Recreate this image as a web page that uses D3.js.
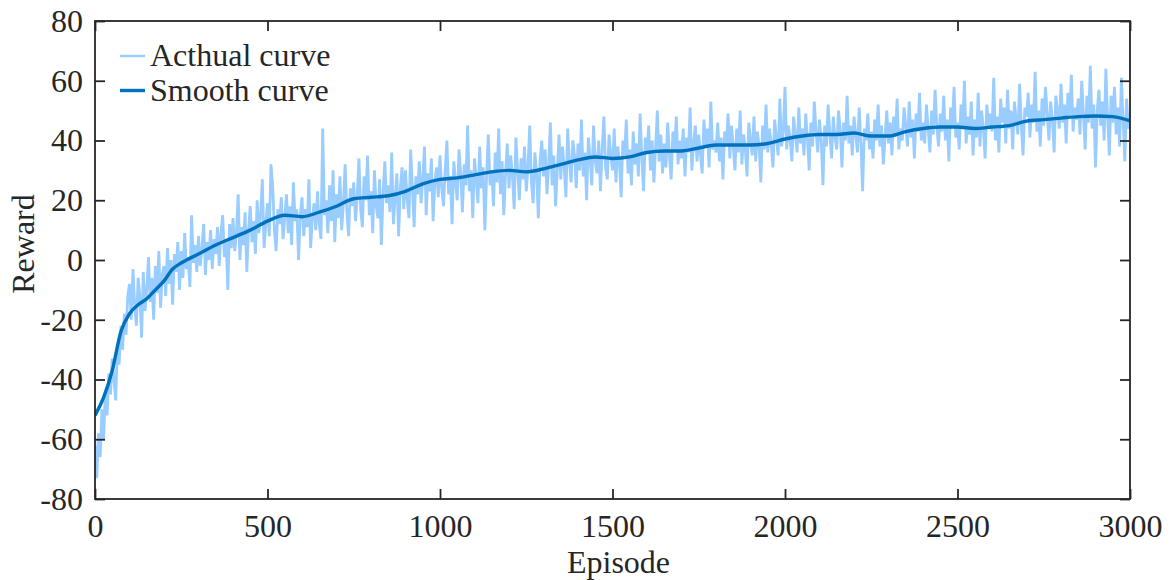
<!DOCTYPE html>
<html lang="en">
<head>
    <meta charset="UTF-8">
    <title>Reward Curve</title>
    <script src="https://d3js.org/d3.v7.min.js"></script>
    <style>
        body { margin: 0; background: #fff; }
        svg text { font-family: "Liberation Serif", "Times New Roman", serif; fill: #262626; }
    </style>
</head>
<body>
<svg id="chart"></svg>
<script>
    // axis ticks
    const xTicks = [0, 500, 1000, 1500, 2000, 2500, 3000];
    const yTicks = [-80, -60, -40, -20, 0, 20, 40, 60, 80];

    // legend labels
    const seriesNames = ["Acthual curve", "Smooth curve"];

    // smoothed reward
    const smoothEpisodes = [0, 25, 50, 75, 100, 125, 150, 175, 200, 225, 250, 300, 350, 400, 450, 500, 550, 600, 650, 700,
        750, 800, 850, 900, 950, 1000, 1050, 1100, 1150, 1200, 1250, 1300, 1350, 1400, 1450, 1500, 1550, 1600, 1650, 1700,
        1750, 1800, 1850, 1900, 1950, 2000, 2050, 2100, 2150, 2200, 2250, 2300, 2350, 2400, 2450, 2500, 2550, 2600, 2650, 2700,
        2750, 2800, 2850, 2900, 2950, 3000];
    const smoothReward = [-52, -46, -37, -24, -18, -15, -13, -10, -7, -3, -1, 2, 5, 7.5, 10, 13, 15, 14.5, 16, 18,
        20.5, 21, 21.5, 23, 25.5, 27, 27.5, 28.5, 29.5, 30, 29.5, 30.5, 32, 33.5, 34.5, 34, 34.5, 36, 36.5, 36.5,
        37.5, 38.5, 38.5, 38.5, 39, 40.5, 41.5, 42, 42, 42.5, 41.5, 41.5, 43, 44, 44.5, 44.5, 44, 44.5, 45, 46.5,
        47, 47.5, 48, 48.2, 48, 46.6];

    // raw reward, one value every 5 episodes
    const actualStep = 5;
    const actualReward = [
        -62, -73, -58, -66, -50, -60, -44, -52, -38, -45,
        -33, -40, -47, -28, -35, -22, -30, -18, -25, -12,
        -8, -20, -3, -15, -22, -6, -12, -26, -4, -17,
        -10, 1, -14, -6, -20, -2, -11, 3, -16, -5,
        -2, -12, 4, -8, 0, -15, 2, -4, 6, -10,
        3, -6, 9, -3, 1, -9, 15, -1, 5, -4,
        8, -2, 4, 12, -5, 6, 0, 10, -3, 7,
        2, 11, -2, 9, 15, 1, 6, -10, 12, 4,
        14, 3, 9, 22, 0, 11, 5, 16, -4, 10,
        18, 6, 13, 2, 20, 9, 15, 27, 4, 12,
        19, 8, 32, 25, 10, 3, 17, 12, 21, 7,
        14, 22, 9, 18, 5, 26, 13, 17, 0, 15,
        21, 8, 17, 11, 27, 4, 14, 19, 10, 23,
        12, 7, 44, 15, 20, 9, 25, 13, 30, 6,
        22, 14, 28, 10, 19, 32, 16, 8, 24, 18,
        26, 13, 21, 34, 17, 11, 28, 20, 35, 15,
        23, 9, 30, 18, 14, 27, 5, 22, 33, 19,
        25, 16, 36, 12, 21, 29, 8, 24, 31, 17,
        30, 20, 14, 37, 24, 11, 28, 22, 33, 19,
        27, 38, 15, 29, 23, 34, 13, 26, 31, 21,
        35, 24, 18, 30, 40, 22, 28, 12, 33, 26,
        20, 37, 29, 16, 32, 25, 45, 23, 30, 14,
        34, 27, 19, 38, 24, 31, 10, 28, 42, 25,
        30, 18, 36, 26, 44, 22, 33, 15, 29, 39,
        24, 35, 28, 17, 41, 30, 20, 34, 27, 38,
        23, 31, 45, 26, 19, 36, 29, 14, 33, 40,
        28, 37, 22, 32, 46, 25, 35, 18, 30, 42,
        27, 38, 31, 21, 44, 33, 26, 40, 35, 24,
        39, 30, 47, 28, 36, 20, 41, 34, 25, 45,
        33, 29, 40, 23, 37, 48, 31, 27, 42, 35,
        30, 44, 26, 38, 33, 21, 40, 35, 47, 29,
        37, 25, 43, 32, 39, 28, 49, 34, 23, 41,
        36, 45, 30, 40, 26, 38, 50, 33, 42, 29,
        39, 31, 46, 35, 27, 43, 37, 48, 32, 40,
        34, 44, 28, 41, 36, 51, 30, 39, 45, 33,
        42, 35, 29, 47, 38, 44, 31, 53, 37, 40,
        36, 46, 33, 41, 27, 43, 39, 49, 34, 45,
        38, 30, 44, 36, 50, 32, 42, 37, 28, 46,
        40, 35, 48, 33, 43, 38, 26, 45, 37, 52,
        36, 44, 39, 31, 47, 41, 35, 54, 38, 43,
        58, 37, 45, 40, 33, 48, 42, 36, 51, 39,
        44, 35, 49, 41, 30, 46, 38, 53, 43, 36,
        47, 40, 25, 45, 38, 52, 42, 34, 48, 41,
        37, 50, 44, 31, 46, 40, 55, 39, 45, 35,
        48, 42, 36, 51, 39, 23, 44, 40, 49, 37,
        43, 34, 47, 40, 52, 38, 45, 32, 41, 50,
        39, 46, 35, 48, 42, 54, 37, 44, 40, 51,
        45, 38, 53, 41, 47, 34, 49, 43, 56, 40,
        46, 39, 52, 44, 36, 50, 42, 57, 45, 38,
        49, 43, 55, 40, 47, 33, 51, 45, 58, 41,
        46, 37, 52, 44, 60, 39, 48, 42, 53, 35,
        47, 41, 56, 38, 50, 44, 34, 52, 45, 49,
        43, 61, 40, 48, 36, 54, 46, 51, 39, 57,
        44, 50, 37, 53, 47, 42, 59, 45, 35, 51,
        48, 56, 41, 52, 46, 63, 43, 50, 38, 54,
        45, 58, 49, 40, 53, 47, 36, 55, 50, 44,
        59, 46, 52, 39, 56, 48, 62, 43, 51, 47,
        54, 42, 60, 49, 37, 55, 46, 65, 44, 52,
        31, 50, 57, 45, 53, 40, 64, 48, 35, 55,
        46, 58, 42, 51, 38, 61, 47, 33, 54, 44,
        49
    ];

    const width = 1171;
    const height = 580;
    const margin = {top: 21, right: 41, bottom: 81, left: 95};
    const innerW = width - margin.left - margin.right;
    const innerH = height - margin.top - margin.bottom;

    const axisColor = "#262626";
    const lightBlue = "#99CCFF";
    const darkBlue = "#0072BD";
    const fontSize = 32;

    const svg = d3.select("#chart").attr("width", width).attr("height", height);
    const g = svg.append("g").attr("transform", "translate(" + margin.left + "," + margin.top + ")");

    const x = d3.scaleLinear().domain([0, 3000]).range([0, innerW]);
    const y = d3.scaleLinear().domain([-80, 80]).range([innerH, 0]);

    g.append("clipPath").attr("id", "clip")
        .append("rect").attr("width", innerW).attr("height", innerH);

    const actualData = actualReward.map((v, i) => ({ep: i * actualStep, r: v}));
    const smoothData = smoothEpisodes.map((e, i) => ({ep: e, r: smoothReward[i]}));

    const line = d3.line().x(d => x(d.ep)).y(d => y(d.r));

    g.append("path")
        .datum(actualData)
        .attr("clip-path", "url(#clip)")
        .attr("fill", "none")
        .attr("stroke", lightBlue)
        .attr("stroke-width", 2.8)
        .attr("stroke-linejoin", "miter")
        .attr("d", line);

    g.append("path")
        .datum(smoothData)
        .attr("clip-path", "url(#clip)")
        .attr("fill", "none")
        .attr("stroke", darkBlue)
        .attr("stroke-width", 3.4)
        .attr("stroke-linejoin", "round")
        .attr("d", line.curve(d3.curveMonotoneX));

    const fmt = d => String(d);

    function styleAxis(sel) {
        sel.select(".domain").remove();
        sel.selectAll("line").attr("stroke", axisColor).attr("stroke-width", 1.8);
        sel.selectAll("text").style("font-size", fontSize + "px").attr("fill", axisColor);
    }

    g.append("g").attr("transform", "translate(0," + innerH + ")")
        .call(d3.axisBottom(x).tickValues(xTicks).tickFormat(fmt).tickSizeInner(-10).tickSizeOuter(0).tickPadding(15))
        .call(styleAxis);
    g.append("g")
        .call(d3.axisTop(x).tickValues(xTicks).tickFormat("").tickSizeInner(-10).tickSizeOuter(0))
        .call(styleAxis);
    g.append("g")
        .call(d3.axisLeft(y).tickValues(yTicks).tickFormat(fmt).tickSizeInner(-10).tickSizeOuter(0).tickPadding(12))
        .call(styleAxis);
    g.append("g").attr("transform", "translate(" + innerW + ",0)")
        .call(d3.axisRight(y).tickValues(yTicks).tickFormat("").tickSizeInner(-10).tickSizeOuter(0))
        .call(styleAxis);

    // box
    g.append("rect")
        .attr("width", innerW).attr("height", innerH)
        .attr("fill", "none").attr("stroke", axisColor).attr("stroke-width", 1.8);

    // axis titles
    svg.append("text")
        .attr("x", margin.left + innerW / 2 + 6).attr("y", 573)
        .attr("text-anchor", "middle")
        .style("font-size", fontSize + "px")
        .text("Episode");
    svg.append("text")
        .attr("transform", "translate(34,244) rotate(-90)")
        .attr("text-anchor", "middle")
        .style("font-size", fontSize + "px")
        .text("Reward");

    // legend
    const legendColors = [lightBlue, darkBlue];
    const legendWidths = [2.5, 3.4];
    const legend = svg.append("g");
    seriesNames.forEach((name, i) => {
        const ly = 56 + i * 34.5;
        legend.append("line")
            .attr("x1", 120).attr("x2", 145).attr("y1", ly).attr("y2", ly)
            .attr("stroke", legendColors[i]).attr("stroke-width", legendWidths[i]);
        legend.append("text")
            .attr("x", 150).attr("y", ly + 10)
            .style("font-size", fontSize + "px")
            .text(name);
    });
</script>
</body>
</html>
